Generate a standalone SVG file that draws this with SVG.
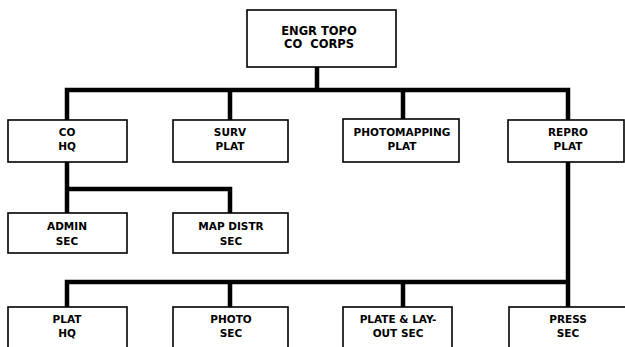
<svg xmlns="http://www.w3.org/2000/svg" width="625" height="347" viewBox="0 0 625 347">
<style>
.box{fill:#fff;stroke:#000;stroke-width:1.6}
.t{font-family:"DejaVu Sans","Liberation Sans",sans-serif;font-weight:bold;font-size:10.5px;text-anchor:middle;fill:#000}
.big{font-size:11.5px}
.ln{fill:none;stroke:#000;stroke-width:4.5;stroke-linecap:square}
</style>
<rect width="625" height="347" fill="#fff"/>
<g id="connectors">
<path class="ln" d="M317 67V90M67 90H568M67 90V120M230 90V120M403 90V120M568 90V120"/>
<path class="ln" d="M67 162V189H230V213M67 189V213"/>
<path class="ln" d="M568 162V282M67 282H568M67 282V307M230 282V307M403 282V307M568 282V307"/>
</g>
<g id="engr-topo"><rect class="box" x="247" y="10" width="149" height="57"/><text class="t big" x="319" y="35">ENGR TOPO</text><text class="t big" x="319" y="48" xml:space="preserve">CO  CORPS</text></g>
<g id="co-hq"><rect class="box" x="8" y="120" width="119" height="42"/><text class="t" x="67" y="136">CO</text><text class="t" x="67" y="150">HQ</text></g>
<g id="surv-plat"><rect class="box" x="173" y="120" width="115" height="42"/><text class="t" x="230" y="136">SURV</text><text class="t" x="230" y="150">PLAT</text></g>
<g id="photomapping-plat"><rect class="box" x="343" y="119" width="116" height="43"/><text class="t" x="402" y="136">PHOTOMAPPING</text><text class="t" x="402" y="150">PLAT</text></g>
<g id="repro-plat"><rect class="box" x="508" y="120" width="116" height="42"/><text class="t" x="568" y="136">REPRO</text><text class="t" x="568" y="150">PLAT</text></g>
<g id="admin-sec"><rect class="box" x="8" y="213" width="119" height="40"/><text class="t" x="67" y="230">ADMIN</text><text class="t" x="67" y="245">SEC</text></g>
<g id="map-distr-sec"><rect class="box" x="173" y="213" width="115" height="40"/><text class="t" x="231" y="230">MAP DISTR</text><text class="t" x="231" y="245">SEC</text></g>
<g id="plat-hq"><rect class="box" x="8" y="307" width="119" height="50"/><text class="t" x="67" y="323">PLAT</text><text class="t" x="67" y="337">HQ</text></g>
<g id="photo-sec"><rect class="box" x="173" y="307" width="115" height="50"/><text class="t" x="231" y="323">PHOTO</text><text class="t" x="231" y="337">SEC</text></g>
<g id="plate-layout-sec"><rect class="box" x="343" y="307" width="109" height="50"/><text class="t" x="398" y="323">PLATE &amp; LAY-</text><text class="t" x="398" y="337">OUT SEC</text></g>
<g id="press-sec"><rect class="box" x="509" y="307" width="120" height="50"/><text class="t" x="568" y="323">PRESS</text><text class="t" x="568" y="337">SEC</text></g>
</svg>
